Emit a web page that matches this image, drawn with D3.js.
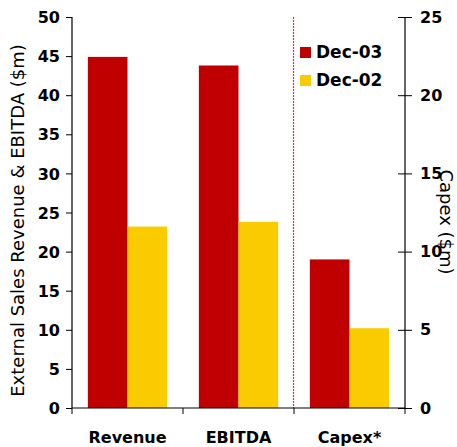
<!DOCTYPE html>
<html><head><meta charset="utf-8">
<script src="https://cdn.jsdelivr.net/npm/d3@7"></script>
<style>body{margin:0;background:#fff}svg{display:block}</style>
</head><body>
<script>
const categories = ["Revenue", "EBITDA", "Capex*"];
const seriesNames = ["Dec-03", "Dec-02"];
const dec03 = [44.9, 43.8, 9.5];
const dec02 = [23.2, 23.8, 5.1];
const leftTicks = [0, 5, 10, 15, 20, 25, 30, 35, 40, 45, 50];
const rightTicks = [0, 5, 10, 15, 20, 25];
const colors = ["#C00000", "#FACC00"];

const W = 457, H = 447;
const m = {l: 72, r: 52, t: 17, b: 39};
const svg = d3.select("body").append("svg").attr("width", W).attr("height", H);
const font = "DejaVu Sans";

const x = d3.scaleBand().domain(categories).range([m.l, W - m.r]);
const xs = d3.scaleBand().domain(seriesNames).range([0, x.bandwidth()]).paddingInner(0).paddingOuter(0.4);
const yL = d3.scaleLinear().domain([0, 50]).range([H - m.b, m.t]);
const yR = d3.scaleLinear().domain([0, 25]).range([H - m.b, m.t]);

const data = categories.map((c, i) => ({c, vals: [dec03[i], dec02[i]], right: c === "Capex*"}));

const g = svg.append("g");
data.forEach(d => {
  const ys = d.right ? yR : yL;
  d.vals.forEach((v, j) => {
    g.append("rect")
      .attr("x", x(d.c) + xs(seriesNames[j]))
      .attr("width", xs.bandwidth())
      .attr("y", ys(v))
      .attr("height", ys(0) - ys(v))
      .attr("fill", colors[j]);
  });
});

// divider
const dx = Math.round(x("Capex*")) - 0.5;
svg.append("line")
  .attr("x1", dx).attr("x2", dx)
  .attr("y1", yL(50)).attr("y2", yL(0))
  .attr("stroke", "#ff2030").attr("stroke-width", 1.2).attr("stroke-dasharray", "2,1");

// left axis
const la = svg.append("g").attr("transform", `translate(${m.l},0)`)
  .call(d3.axisLeft(yL).tickValues(leftTicks).tickSize(6).tickPadding(6));
// right axis
const ra = svg.append("g").attr("transform", `translate(${W - m.r},0)`)
  .call(d3.axisRight(yR).tickValues(rightTicks).tickSize(7).tickPadding(8));
ra.selectAll(".tick line").attr("x1", -7);
// bottom axis
const ba = svg.append("g").attr("transform", `translate(0,${H - m.b})`)
  .call(d3.axisBottom(x).tickSize(0).tickPadding(24));
ba.selectAll(".tick text").attr("dy", "0.71em");
const edges = categories.map(c => x(c)).concat([x.range()[1]]);
ba.selectAll(".edge").data(edges).enter().append("line")
  .attr("x1", d => d).attr("x2", d => d).attr("y1", 0).attr("y2", 6)
  .attr("stroke", "#000");

[la, ra, ba].forEach(a => {
  a.select(".domain").attr("stroke", "#000").attr("stroke-width", 1.2);
  a.selectAll(".tick line").attr("stroke", "#000");
  a.selectAll("text").attr("font-family", font).attr("font-weight", "bold")
    .attr("font-size", 16).attr("fill", "#000");
});
la.select(".domain").attr("d", `M0,${m.t}V${H - m.b}`);
ra.select(".domain").attr("d", `M0,${m.t}V${H - m.b}`);
ba.select(".domain").attr("d", `M${m.l},0H${W - m.r}`);
la.selectAll(".tick text").attr("dy", "0.35em");

// axis titles
svg.append("text")
  .attr("transform", `translate(24,${(yL(0) + yL(50)) / 2 + 8}) rotate(-90)`)
  .attr("text-anchor", "middle")
  .attr("font-family", font).attr("font-size", 18).attr("font-weight", 500).attr("fill", "#000")
  .text("External Sales Revenue & EBITDA ($m)");
svg.append("text")
  .attr("transform", `translate(440,222) rotate(90)`)
  .attr("text-anchor", "middle")
  .attr("font-family", font).attr("font-size", 18).attr("font-weight", 500).attr("fill", "#000")
  .text("Capex ($m)");

// legend
const lg = svg.append("g").attr("transform", "translate(300,47)");
seriesNames.forEach((s, i) => {
  const row = lg.append("g").attr("transform", `translate(0,${i * 28})`);
  row.append("rect").attr("width", 11).attr("height", 11).attr("fill", colors[i]);
  row.append("text").attr("x", 16).attr("y", 11)
    .attr("font-family", font).attr("font-weight", "bold").attr("font-size", 17)
    .attr("fill", "#000").text(s);
});
</script>
</body></html>
